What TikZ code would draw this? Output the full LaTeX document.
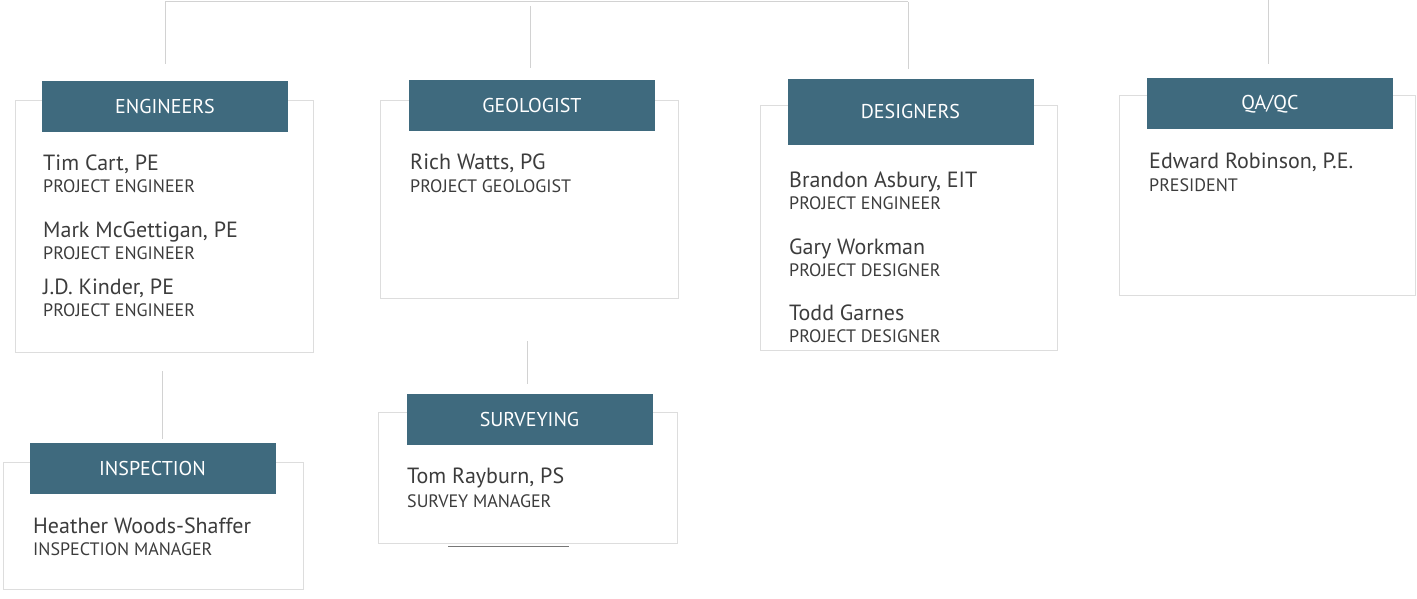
\documentclass[tikz,border=0pt]{standalone}
\usepackage{xcolor}
\usepackage{fontspec}
\setmainfont{PT Sans}
\usetikzlibrary{positioning, calc}

\definecolor{headblue}{HTML}{3F6A7E}
\definecolor{boxgray}{HTML}{DDDDDD}
\definecolor{linegray}{HTML}{D2D2D2}
\definecolor{txtgray}{HTML}{3C3C3C}

\tikzset{
  outerbox/.style={draw=boxgray, line width=1pt, anchor=north west, inner sep=0pt},
  headbox/.style={fill=headblue, text=white, inner sep=0pt, minimum width=246, minimum height=51,
    font=\fontsize{20}{24}\selectfont},
  staffname/.style={anchor=base west, text=txtgray, inner sep=0pt, font=\fontsize{22}{26}\selectfont},
  jobtitle/.style={anchor=base west, text=txtgray, inner sep=0pt, font=\fontsize{18}{21}\selectfont},
  link/.style={draw=linegray, line width=1pt},
}

\begin{document}
\begin{tikzpicture}[x=1pt, y=-1pt]

\useasboundingbox (0,0) rectangle (1417,599);

%//outer boxes
\node [outerbox, minimum width=298, minimum height=252] (engbox) at (15,100) {};
\node [outerbox, minimum width=298, minimum height=198] (geobox) at (380,100) {};
\node [outerbox, minimum width=297, minimum height=245] (desbox) at (760,105) {};
\node [outerbox, minimum width=296, minimum height=200] (qabox) at (1119,95) {};
\node [outerbox, minimum width=300, minimum height=127] (insbox) at (3,462) {};
\node [outerbox, minimum width=299, minimum height=131] (surbox) at (378,412) {};

%//headers
\node [headbox] (eng) at (165,106.5) {ENGINEERS};
\node [headbox] (geo) at (532,105.5) {GEOLOGIST};
\node [headbox, minimum height=66] (des) at (910.5,112) {DESIGNERS};
\node [headbox] (qa) at (1270,104) {QA/QC};
\node [headbox] (ins) at (152.5,468.5) {INSPECTION};
\node [headbox] (sur) at (529.5,419.5) {SURVEYING};

%//connectors
\coordinate (busL) at (165,2);
\coordinate (busR) at (908,2);
\coordinate (busG) at (530,2);
\coordinate (qaTop) at (1268,0);
\draw [link] (busL) -- (busR);
\draw [link, shorten >=17] (busL) -- (eng.north);
\draw [link, shorten <=4, shorten >=12] (busG) -- (geo.north -| busG);
\draw [link, shorten >=10] (busR) -- (des.north -| busR);
\draw [link, shorten >=14] (qaTop) -- (qa.north -| qaTop);
\draw [link, shorten <=18, shorten >=4] (engbox.south -| 162,0) -- (ins.north -| 162,0);
\draw [link, shorten <=42, shorten >=10] (geobox.south -| 527,0) -- (sur.north -| 527,0);

%//staff
\foreach \y/\who/\what in {171/{Tim Cart, PE}/{PROJECT ENGINEER},
                           237/{Mark McGettigan, PE}/{PROJECT ENGINEER},
                           294/{J.D. Kinder, PE}/{PROJECT ENGINEER}}
{
\node [staffname] (eng-\y) at (43,\y) {\who};
\node [jobtitle] (engt-\y) at (43,\y+22) {\what};
}

\node [staffname] (geo-1) at (410,170) {Rich Watts, PG};
\node [jobtitle] (geot-1) at (410,193) {PROJECT GEOLOGIST};

\foreach \y/\who/\what in {187/{Brandon Asbury, EIT}/{PROJECT ENGINEER},
                           254/{Gary Workman}/{PROJECT DESIGNER},
                           320/{Todd Garnes}/{PROJECT DESIGNER}}
{
\node [staffname] (des-\y) at (789,\y) {\who};
\node [jobtitle] (dest-\y) at (789,\y+22.5) {\what};
}

\node [staffname] (qa-1) at (1149,168) {Edward Robinson, P.E.};
\node [jobtitle] (qat-1) at (1149,191) {PRESIDENT};

\node [staffname] (ins-1) at (33,533) {Heather Woods-Shaffer};
\node [jobtitle] (inst-1) at (33,555) {INSPECTION MANAGER};

\node [staffname] (sur-1) at (407,483) {Tom Rayburn, PS};
\node [jobtitle] (surt-1) at (407,507) {SURVEY MANAGER};

\draw [txtgray!70, line width=0.8pt] (448,546) -- (569,546);

\end{tikzpicture}
\end{document}
